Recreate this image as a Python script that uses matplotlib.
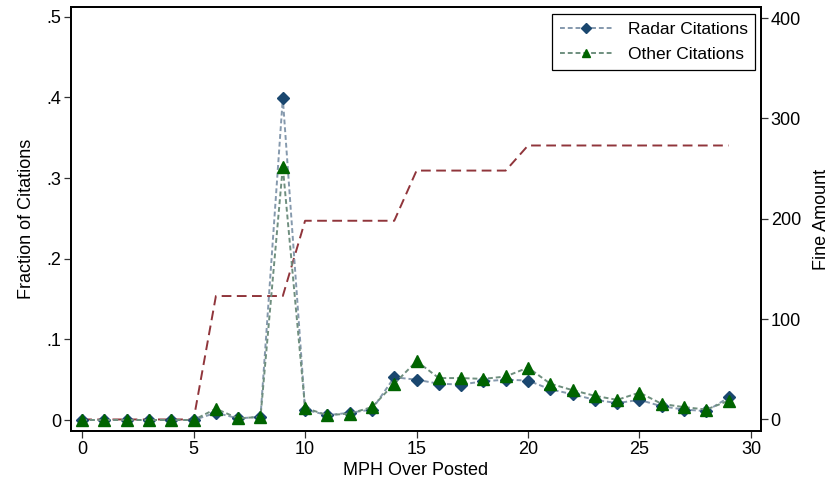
import matplotlib
matplotlib.use("Agg")
import matplotlib.pyplot as plt

plt.rcParams['font.family'] = ['Liberation Sans', 'DejaVu Sans']

mph = list(range(0, 30))
radar = [0.0, 0.0, 0.0, 0.0, 0.0, 0.0, 0.009, 0.002, 0.004, 0.399,
         0.013, 0.006, 0.009, 0.013, 0.053, 0.050, 0.045, 0.044, 0.048, 0.050,
         0.049, 0.038, 0.032, 0.025, 0.021, 0.025, 0.017, 0.013, 0.011, 0.028]
other = [0.0, 0.0, 0.0, 0.0, 0.0, 0.0, 0.014, 0.002, 0.004, 0.314,
         0.015, 0.006, 0.008, 0.016, 0.045, 0.073, 0.052, 0.052, 0.051, 0.054,
         0.065, 0.045, 0.037, 0.030, 0.025, 0.034, 0.020, 0.016, 0.013, 0.024]
fine = [0, 0, 0, 0, 0, 0, 123, 123, 123, 123,
        198, 198, 198, 198, 198, 248, 248, 248, 248, 248,
        273, 273, 273, 273, 273, 273, 273, 273, 273, 273]

xticks = [0, 5, 10, 15, 20, 25, 30]
yticks = [0, 0.1, 0.2, 0.3, 0.4, 0.5]
ylabels = ['0', '.1', '.2', '.3', '.4', '.5']
y2ticks = [0, 100, 200, 300, 400]

navy = '#1a476f'
green = '#006400'
maroon = '#90353b'
radar_line = '#8599ad'
other_line = '#6f8f7f'

fig = plt.figure(figsize=(8.33, 4.87), dpi=100)
ax = fig.add_axes([71/833, 56/487, 690/833, 424/487])
ax2 = ax.twinx()

ax2.plot(mph, fine, color=maroon, lw=1.4, dashes=(5, 2.8))
ax2.set_ylim(-11.5, 411)
ax2.set_yticks(y2ticks)
ax2.set_ylabel('Fine Amount', fontsize=13, labelpad=9)

ax.set_zorder(ax2.get_zorder() + 1)
ax.patch.set_visible(False)

ax.plot(mph, radar, color=radar_line, lw=1.4, dashes=(2.5, 1.5),
        marker='D', markersize=6.5, markerfacecolor=navy, markeredgecolor=navy,
        label='Radar Citations')
ax.plot(mph, other, color=other_line, lw=1.4, dashes=(2.5, 1.5),
        marker='^', markersize=8, markerfacecolor=green, markeredgecolor=green,
        label='Other Citations')

ax.set_xlim(-0.5, 30.45)
ax.set_ylim(-0.0136, 0.512)
ax.set_xticks(xticks)
ax.set_yticks(yticks)
ax.set_yticklabels(ylabels)
ax.set_xlabel('MPH Over Posted', fontsize=13, labelpad=3)
ax.set_ylabel('Fraction of Citations', fontsize=13, labelpad=8)

for a in (ax, ax2):
    a.tick_params(labelsize=13, length=5, width=0.9, direction='out', color='#333333', pad=2)
    for s in a.spines.values():
        s.set_linewidth(1.3)
        s.set_color('black')

leg = ax.legend(loc='upper right', fontsize=12.5, frameon=True, fancybox=False,
                edgecolor='black', framealpha=1, borderpad=0.45,
                handlelength=3.0, handletextpad=0.9, labelspacing=0.55,
                markerscale=0.8, borderaxespad=0.3, bbox_to_anchor=(0.9995, 0.995))
leg.get_frame().set_linewidth(0.9)

fig.savefig('out.png', dpi=100)
